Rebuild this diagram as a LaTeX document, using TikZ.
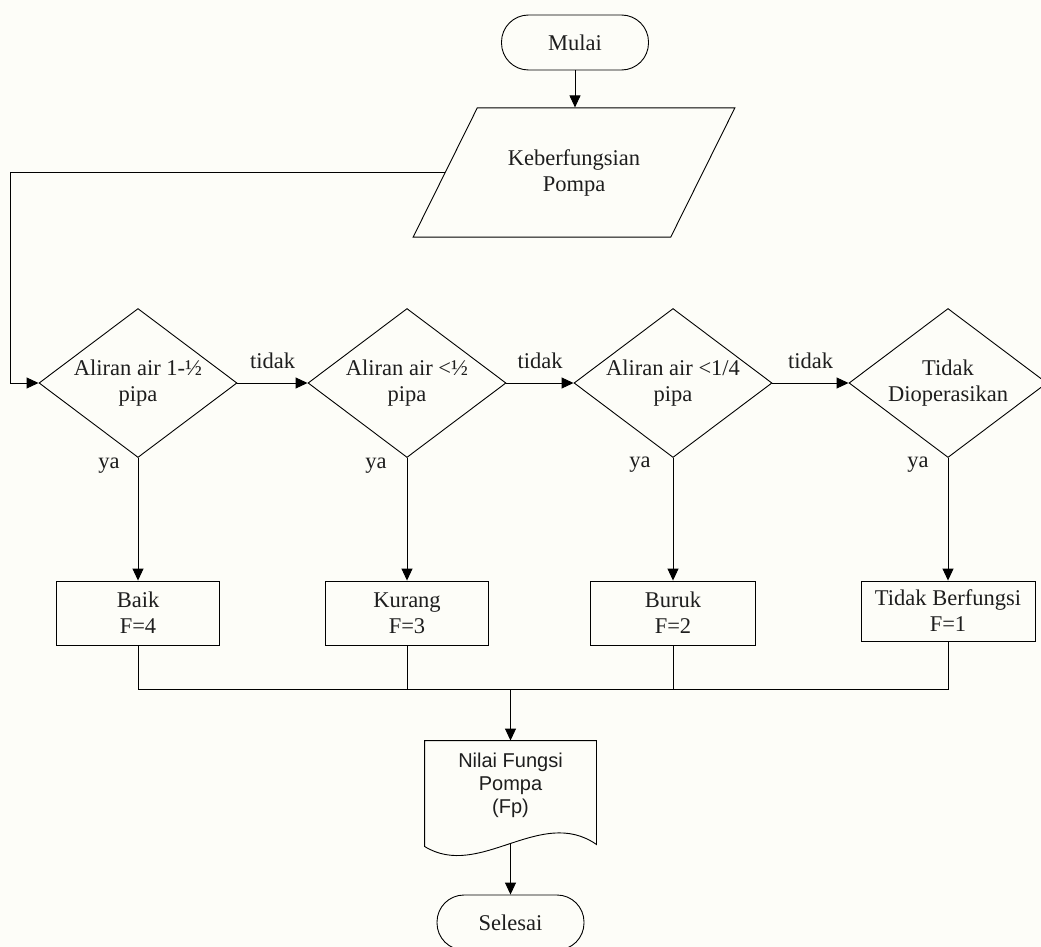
\documentclass[tikz,border=0pt]{standalone}
\usepackage{fontspec}
\setmainfont{Liberation Serif}
\newfontfamily\arialfont{Liberation Sans}
\usetikzlibrary{shapes.geometric,arrows.meta}
\definecolor{paper}{RGB}{253,253,248}
\definecolor{ink}{RGB}{30,30,30}
\begin{document}
\begin{tikzpicture}[x=1pt,y=-1pt,line width=0.9pt,
    >={Triangle[length=12pt,width=11pt]},
    every node/.style={font=\fontsize{22.5}{26}\selectfont,text=ink,align=center},
    term/.style={draw,rectangle,rounded corners=27pt,minimum width=147pt,minimum height=55pt},
    io/.style={draw,trapezium,trapezium left angle=63.6,trapezium right angle=116.4,
      inner xsep=30.5pt,inner ysep=41.3pt},
    cond/.style={draw,diamond,inner sep=0pt,aspect=1.33,minimum width=198pt,minimum height=149pt},
    proc/.style={draw,rectangle,minimum width=163pt,minimum height=64pt}]
  \useasboundingbox (0,0) rectangle (1041,947);
  \clip (0,0) rectangle (1041,947);
  \fill[paper] (0,0) rectangle (1041,947);
  % nodes
  \node[term] (start) at (575,42.5) {Mulai};
  \node[io] (input) at (574,172.5) {Keberfungsian\\Pompa};
  \node[cond] (c1) at (138,383) {Aliran air 1-½\\pipa};
  \node[cond] (c2) at (407,383) {Aliran air <½\\pipa};
  \node[cond] (c3) at (673,383) {Aliran air <1/4\\pipa};
  \node[cond] (c4) at (948,383) {Tidak\\Dioperasikan};
  \node[proc] (p1) at (138,613) {Baik\\F=4};
  \node[proc] (p2) at (407,613) {Kurang\\F=3};
  \node[proc,minimum width=165pt] (p3) at (673,613) {Buruk\\F=2};
  \node[proc,minimum width=174pt,minimum height=60pt] (p4) at (948,611) {Tidak Berfungsi\\F=1};
  \node (ya1) at (109,466) {ya};
  \node (ya2) at (376,466) {ya};
  \node (ya3) at (640,465) {ya};
  \node (ya4) at (918,465) {ya};
  \node[font=\arialfont\fontsize{20}{23}\selectfont,minimum width=171pt,minimum height=89pt] (doc) at (510.5,785.5) {Nilai Fungsi\\Pompa\\(Fp)};
  \node[term] (stop) at (510.5,922.5) {Selesai};
  \coordinate (loop) at (10,0);
  \coordinate (join) at (510.5,689);
  \coordinate (docout) at ([yshift=-13pt]doc.south);
  % document outline
  \draw (doc.north west) -- (doc.north east) -- ([yshift=-14pt]doc.south east)
    .. controls +(-56,-39) and +(55,34) .. ([yshift=-16pt]doc.south west) -- cycle;
  % connectors
  \draw[->] (start) -- (start |- input.north);
  \draw[->] (input.left side) -- (input.left side -| loop) |- (c1.west);
  \draw[->] (c1) -- node[above=10pt] (t1) {tidak} (c2);
  \draw[->] (c2) -- node[above=10pt] (t2) {tidak} (c3);
  \draw[->] (c3) -- node[above=10pt] (t3) {tidak} (c4);
  \draw[->] (c1) -- (p1);
  \draw[->] (c2) -- (p2);
  \draw[->] (c3) -- (p3);
  \draw[->] (c4) -- (p4);
  \draw (p1.south) |- (join) (p4.south) |- (join)
    (p2.south) -- (p2.south |- join) (p3.south) -- (p3.south |- join);
  \draw[->] (join) -- (doc.north);
  \draw[->] (docout) -- (stop);
\end{tikzpicture}
\end{document}
